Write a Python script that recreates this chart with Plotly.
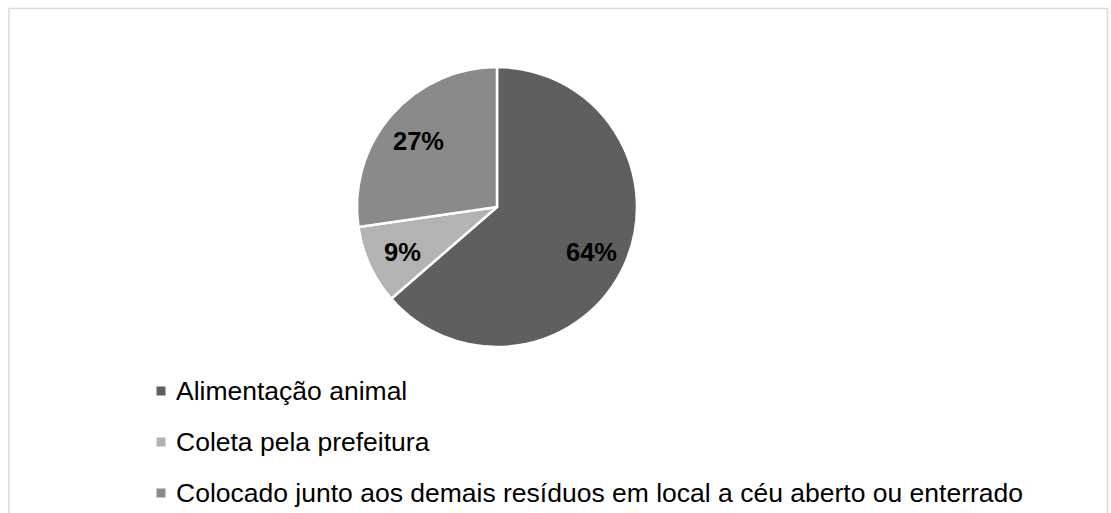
import math
import plotly.graph_objects as go

# ---- data ----
categories = [
    "Alimentação animal",
    "Coleta pela prefeitura",
    "Colocado junto aos demais resíduos em local a céu aberto ou enterrado",
]
counts = [7, 1, 3]
colors = ["#5f5f5f", "#b3b3b3", "#8a8a8a"]

W, H = 1111, 513
FONT = "Liberation Sans"


def px(x):
    return x / W


def py(y):
    return 1 - y / H


cx, cy, r = 497, 207, 140

fig = go.Figure()
fig.add_trace(
    go.Pie(
        labels=categories,
        values=counts,
        sort=False,
        direction="clockwise",
        rotation=0,
        marker=dict(colors=colors, line=dict(color="white", width=2.5)),
        textinfo="none",
        domain=dict(x=[px(cx - r), px(cx + r)], y=[py(cy + r), py(cy - r)]),
        showlegend=False,
        hoverinfo="label+percent",
    )
)

annotations = []
# slice percentage labels, placed from the data's cumulative angles
total = sum(counts)
cum = 0
k = 0.74
for v in counts:
    mid = (cum + v / 2) / total
    cum += v
    th = 2 * math.pi * mid
    lx = cx + math.sin(th) * k * r
    ly = cy - math.cos(th) * k * r + 2
    annotations.append(
        dict(
            text="<b>%d%%</b>" % round(100 * v / total),
            xref="paper", yref="paper", x=px(lx), y=py(ly),
            xanchor="center", yanchor="middle", showarrow=False,
            font=dict(family=FONT, size=25.5, color="black"),
        )
    )

# legend drawn as text + swatches
legend_x_sq = 161
legend_x_txt = 174
legend_y = [391, 442, 493]
sq = 4.5
shapes = [
    dict(
        type="rect", xref="paper", yref="paper",
        x0=px(9), x1=px(1107.5), y0=py(8.5), y1=py(530),
        line=dict(color="#d9d9d9", width=1.5), fillcolor="rgba(0,0,0,0)",
        layer="below",
    )
]
for cat, col, yy in zip(categories, colors, legend_y):
    shapes.append(
        dict(
            type="rect", xref="paper", yref="paper",
            x0=px(legend_x_sq - sq), x1=px(legend_x_sq + sq),
            y0=py(yy + sq), y1=py(yy - sq),
            line=dict(width=0), fillcolor=col,
        )
    )
    annotations.append(
        dict(
            text=cat, xref="paper", yref="paper",
            x=px(legend_x_txt), y=py(yy),
            xanchor="left", yanchor="middle", showarrow=False,
            font=dict(family=FONT, size=26.5, color="#000000"),
        )
    )

fig.update_layout(
    width=W, height=H,
    margin=dict(l=0, r=0, t=0, b=0),
    paper_bgcolor="white",
    plot_bgcolor="white",
    shapes=shapes,
    annotations=annotations,
    showlegend=False,
)

fig.write_html("out.html")
